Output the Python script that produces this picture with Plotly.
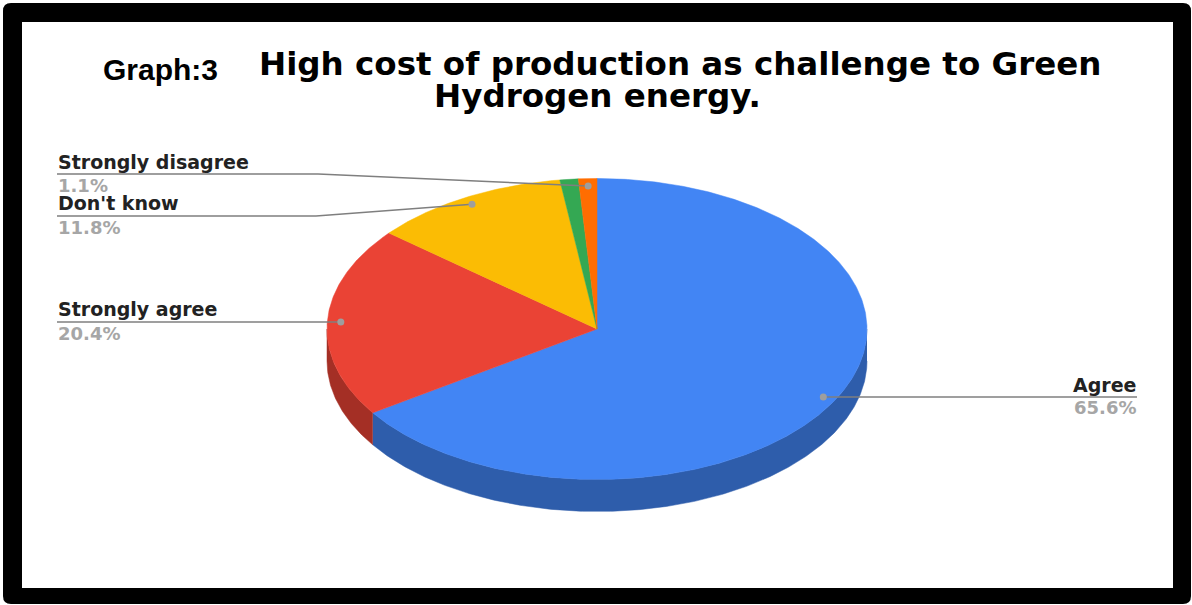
import math

import plotly.graph_objects as graph_objects

# slice order is clockwise starting from 12 o'clock
categories = ['Agree', 'Strongly agree', "Don't know", 'Disagree', 'Strongly disagree']
percent_values = [65.6, 20.4, 11.8, 1.1, 1.1]
percent_labels = ['65.6%', '20.4%', '11.8%', '', '1.1%']
top_colors = ['#4285F4', '#EA4335', '#FBBC04', '#34A853', '#FF6D01']
side_colors = ['#2E5DAB', '#A42F25', '#B08403', '#247539', '#B34C01']

title_lines = ['High cost of production as challenge to Green', 'Hydrogen energy.']
graph_label = 'Graph:3'

# pie is drawn in pixel like axes, squashed to an ellipse for the 3d look
CENTER_X = 597
CENTER_Y = 329
RADIUS_X = 270
RADIUS_Y = 150.5
DEPTH = 32
DOT_RADIUS = 0.95

# label position : category -> (text x, name y, percent y, line y, elbow x)
LABEL_LAYOUT = {
    'Agree' : (1137, 385, 407, 397, None),
    'Strongly agree' : (57, 309, 333, 322, None),
    "Don't know" : (57, 203, 227, 216, 316),
    'Strongly disagree' : (57, 162, 185, 174, 318),
}


def ellipse_point(degree : float, ratio : float = 1.0, offset : float = 0.0):
    radian = math.radians(degree)
    x = CENTER_X + RADIUS_X * ratio * math.sin(radian)
    y = CENTER_Y - RADIUS_Y * ratio * math.cos(radian) + offset
    return x, y


def arc_points(start : float, end : float, offset : float = 0.0):
    steps = max(2, int((end - start) * 2))
    return [ellipse_point(start + (end - start) * i / steps, 1.0, offset) for i in range(steps + 1)]


def add_polygon(figure : graph_objects.Figure, points : list, color : str):
    figure.add_trace(graph_objects.Scatter(x = [p[0] for p in points], y = [p[1] for p in points],
                                           mode = 'lines', fill = 'toself', fillcolor = color,
                                           line = dict(color = color, width = 0.5),
                                           hoverinfo = 'skip', showlegend = False))


def add_text(figure : graph_objects.Figure, x : float, y : float, text : str, size : float, color : str, anchor : str, family : str):
    figure.add_annotation(x = x, y = y, xref = 'x', yref = 'y', text = text, showarrow = False,
                          xanchor = anchor, yanchor = 'middle', align = 'center', borderpad = 0,
                          font = dict(family = family, size = size, color = color, weight = 'bold'))


figure = graph_objects.Figure()

# slice angles
angle_list = []
angle = 0.0
total = sum(percent_values)
for value in percent_values:
    angle_list.append((angle, angle + value / total * 360))
    angle = angle + value / total * 360

# side wall first, only the front half of the rim is visible
for (start, end), color in zip(angle_list, side_colors):
    front_start = max(start, 90)
    front_end = min(end, 270)
    if front_start >= front_end:
        continue
    upper = arc_points(front_start, front_end)
    lower = arc_points(front_start, front_end, DEPTH)
    add_polygon(figure, upper + lower[::-1], color)

for (start, end), color in zip(angle_list, top_colors):
    add_polygon(figure, [(CENTER_X, CENTER_Y)] + arc_points(start, end) + [(CENTER_X, CENTER_Y)], color)

# leader lines and labels
for category, label, (start, end) in zip(categories, percent_labels, angle_list):
    if category not in LABEL_LAYOUT:
        continue
    text_x, name_y, percent_y, line_y, elbow_x = LABEL_LAYOUT[category]
    dot_x, dot_y = ellipse_point((start + end) / 2, DOT_RADIUS)
    if elbow_x is None:
        # straight leader, dot sits on the line
        line_x_list = [text_x, dot_x]
        line_y_list = [line_y, line_y]
    else:
        line_x_list = [text_x, elbow_x, dot_x]
        line_y_list = [line_y, line_y, dot_y]
    figure.add_trace(graph_objects.Scatter(x = line_x_list, y = line_y_list,
                                           mode = 'lines', line = dict(color = '#7F7F7F', width = 1.5),
                                           hoverinfo = 'skip', showlegend = False))
    figure.add_trace(graph_objects.Scatter(x = [dot_x], y = [line_y_list[-1]],
                                           mode = 'markers', marker = dict(color = '#9E9E9E', size = 7),
                                           hoverinfo = 'skip', showlegend = False))
    anchor = 'right' if text_x > CENTER_X else 'left'
    add_text(figure, text_x, name_y, category, 19, '#222222', anchor, 'DejaVu Sans')
    add_text(figure, text_x, percent_y, label, 18, '#A6A6A6', anchor, 'DejaVu Sans')

# the two title lines are not centred on each other in the picture
add_text(figure, 680, 64, title_lines[0], 32.5, '#000000', 'center', 'DejaVu Sans')
add_text(figure, 597, 96, title_lines[1], 32.5, '#000000', 'center', 'DejaVu Sans')
add_text(figure, 160, 69, graph_label, 30, '#000000', 'center', 'Liberation Sans')

# black frame, rounded outside
frame_path = 'M 11 3 H 1183 Q 1191 3 1191 11 V 596 Q 1191 604 1183 604 H 11 Q 3 604 3 596 V 11 Q 3 3 11 3 Z'
figure.add_shape(type = 'path', path = frame_path, xref = 'x', yref = 'y', fillcolor = '#000000',
                 line = dict(width = 0), layer = 'below')
figure.add_shape(type = 'rect', x0 = 22, x1 = 1173, y0 = 22, y1 = 588, xref = 'x', yref = 'y',
                 fillcolor = '#FFFFFF', line = dict(width = 0), layer = 'below')

figure.update_xaxes(range = [0, 1192], visible = False, fixedrange = True)
figure.update_yaxes(range = [605, 0], visible = False, fixedrange = True)
figure.update_layout(width = 1192, height = 605, margin = dict(l = 0, r = 0, t = 0, b = 0),
                     paper_bgcolor = '#FFFFFF', plot_bgcolor = '#FFFFFF', showlegend = False)

# body margin has to go or the page gets shifted by 8px
figure.write_html('out.html', config = dict(displayModeBar = False),
                  post_script = "document.body.style.margin = '0';")
